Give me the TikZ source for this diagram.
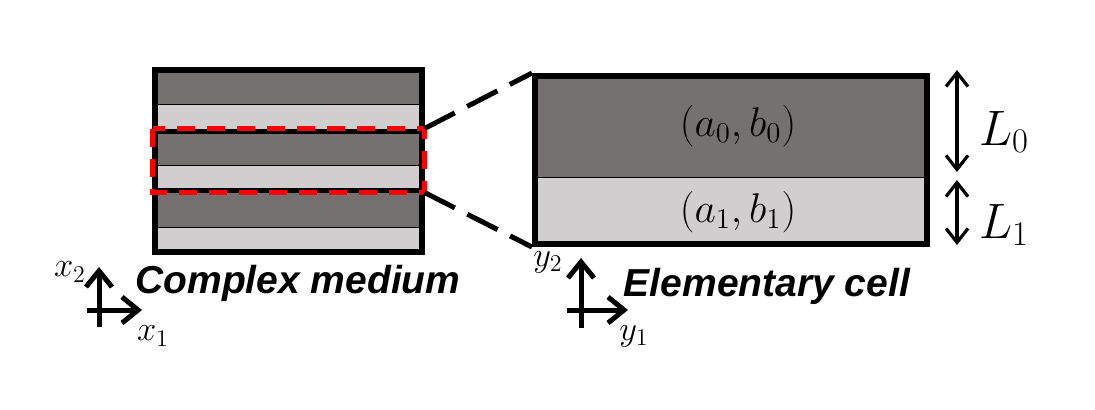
\documentclass[tikz,border=0pt]{standalone}
\usepackage{fontspec}
\newfontfamily\capfont{Liberation Sans}
\usetikzlibrary{arrows.meta,fit}
\definecolor{darklayer}{HTML}{767171}
\definecolor{lightlayer}{HTML}{D0CECE}

\begin{document}
\begin{tikzpicture}[
  x=0.5pt, y=-0.5pt,
  frame/.style={draw, line width=3pt, inner sep=0pt},
  dark/.style={fill=darklayer, draw, line width=0.5pt},
  light/.style={fill=lightlayer, draw, line width=0.5pt},
  zoomline/.style={line width=2.5pt, dash pattern=on 17pt off 7pt},
  dim/.style={{Straight Barb[length=7pt,width=11pt]}-{Straight Barb[length=7pt,width=11pt]}, line width=1.6pt},
  axis/.style={-{Straight Barb[length=8pt,width=13pt]}, line width=2.5pt},
  caption/.style={font=\capfont\bfseries\itshape\fontsize{19.5}{23}\selectfont, anchor=base},
  lab/.style={font=\fontsize{18.5}{22}\selectfont}
]
\useasboundingbox (0,0) rectangle (1095,409);

% complex medium, three periods
\foreach \t/\m/\b in {70/104/131, 131/165/190, 190/227/252} {
  \filldraw[dark] (155,\t) rectangle (422,\m);
  \filldraw[light] (155,\m) rectangle (422,\b);
}
\node[frame, fit={(155,70) (422,252)}] (medium) {};
\node[frame, line width=2.5pt, fit={(155,131) (422,190)}] (win) {};
\draw[red, line width=2.5pt, dash pattern=on 9pt off 6pt] (win.north west) rectangle (win.south east);

% elementary cell
\filldraw[dark] (535,76) rectangle (927,177);
\filldraw[light] (535,177) rectangle (927,244);
\node[frame, fit={(535,76) (927,244)}] (cell) {};
\node[lab, font=\fontsize{20}{24}\selectfont] (ab0) at (738,126) {$(a_0,b_0)$};
\node[lab, font=\fontsize{20}{24}\selectfont] (ab1) at (738,212) {$(a_1,b_1)$};

\draw[zoomline] (win.north east) -- (cell.north west);
\draw[zoomline] (win.south east) -- (cell.south west);

% layer thicknesses
\coordinate (t0) at (957,70);
\coordinate (b0) at (957,172);
\coordinate (t1) at (957,180);
\coordinate (b1) at (957,245);
\draw[dim] (t0) -- (b0);
\draw[dim] (t1) -- (b1);
\node[anchor=west, font=\fontsize{25}{30}\selectfont] (L0) at (972,132) {$L_0$};
\node[anchor=west, font=\fontsize{25}{30}\selectfont] (L1) at (972,225) {$L_1$};

% axes
\coordinate (xs1) at (87,310);
\coordinate (xe1) at (142,310);
\coordinate (xs2) at (99,327);
\coordinate (xe2) at (99,267);
\draw[axis] (xs1) -- (xe1);
\draw[axis] (xs2) -- (xe2);
\node[lab] (x1) at (153,336) {$x_1$};
\node[lab] (x2) at (70,272) {$x_2$};

\coordinate (ys1) at (567,310);
\coordinate (ye1) at (628,310);
\coordinate (ys2) at (581,328);
\coordinate (ye2) at (581,258);
\draw[axis] (ys1) -- (ye1);
\draw[axis] (ys2) -- (ye2);
\node[lab] (y1) at (634,336) {$y_1$};
\node[lab] (y2) at (548,262) {$y_2$};

\node[caption] (medcap) at (298,293) {Complex medium};
\node[caption] (cellcap) at (767,296) {Elementary cell};
\end{tikzpicture}
\end{document}
